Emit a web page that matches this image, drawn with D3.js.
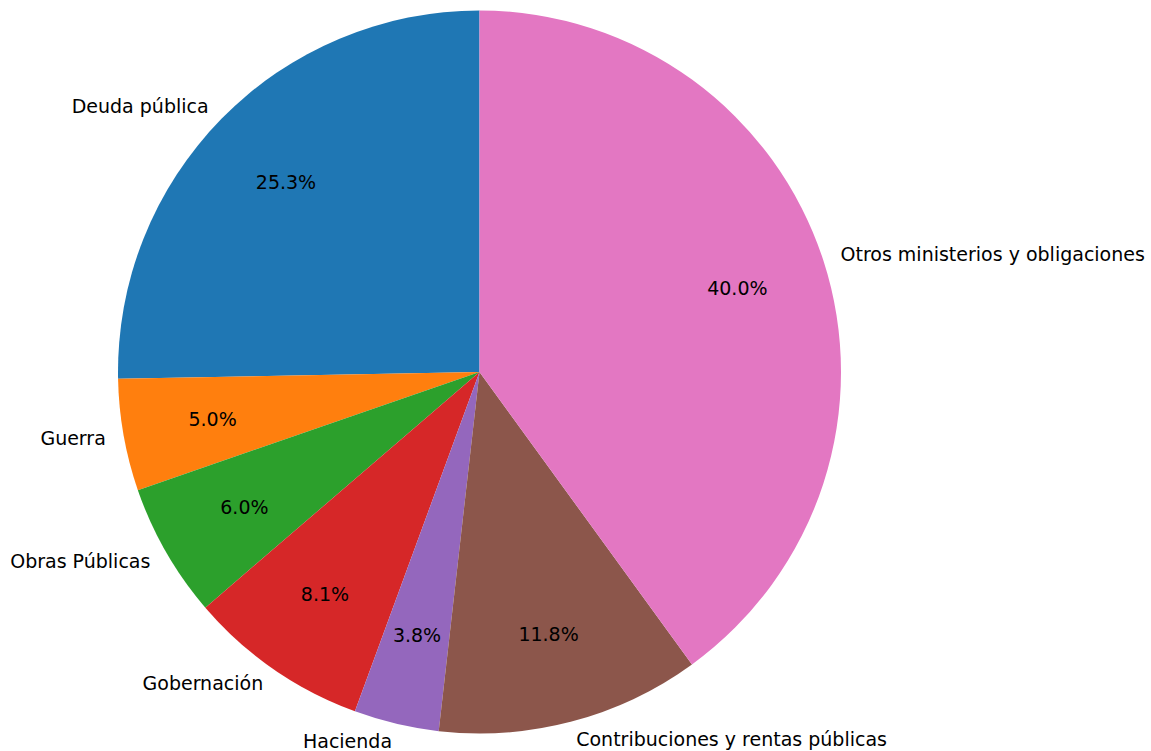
<!DOCTYPE html>
<html><head><meta charset="utf-8">
<script src="https://cdn.jsdelivr.net/npm/d3@7"></script>
<style>body{margin:0;background:#fff}svg{display:block}</style>
</head><body>
<script>
const categories = ["Deuda pública","Guerra","Obras Públicas","Gobernación","Hacienda","Contribuciones y rentas públicas","Otros ministerios y obligaciones"];
const values = [25.3, 5.0, 6.0, 8.1, 3.8, 11.8, 40.0];
const colors = ["#1f77b4","#ff7f0e","#2ca02c","#d62728","#9467bd","#8c564b","#e377c2"];

const W = 1151, H = 751;
const cx = 479.5, cy = 372, R = 361.5;
const svg = d3.select("body").append("svg").attr("width", W).attr("height", H);
const g = svg.append("g").attr("transform", `translate(${cx},${cy})`);

const data = categories.map((c, i) => ({name: c, value: values[i], color: colors[i]}));
const pie = d3.pie().value(d => d.value).sort(null).startAngle(0).endAngle(-2 * Math.PI);
const arcs = pie(data);
const arc = d3.arc().innerRadius(0).outerRadius(R);

g.selectAll("path.slice").data(arcs).join("path")
  .attr("class", "slice")
  .attr("d", arc)
  .attr("fill", d => d.data.color);

const total = d3.sum(values);
function pos(d, k) {
  const a = (d.startAngle + d.endAngle) / 2;
  return [Math.sin(a) * R * k, -Math.cos(a) * R * k];
}
const font = "DejaVu Sans, sans-serif";
const fs = 19;

g.selectAll("text.pct").data(arcs).join("text")
  .attr("class", "pct")
  .attr("x", d => pos(d, 0.75)[0])
  .attr("y", d => pos(d, 0.75)[1] - 0.5)
  .attr("text-anchor", "middle")
  .attr("dominant-baseline", "central")
  .attr("font-family", font).attr("font-size", fs).attr("fill", "#000")
  .text(d => (d.data.value / total * 100).toFixed(1) + "%");

g.selectAll("text.lbl").data(arcs).join("text")
  .attr("class", "lbl")
  .attr("x", d => pos(d, 1.05)[0])
  .attr("y", d => pos(d, 1.05)[1] - 0.5)
  .attr("text-anchor", d => pos(d, 1.05)[0] > 0 ? "start" : "end")
  .attr("dominant-baseline", "central")
  .attr("font-family", font).attr("font-size", fs).attr("fill", "#000")
  .text(d => d.data.name);
</script>
</body></html>
